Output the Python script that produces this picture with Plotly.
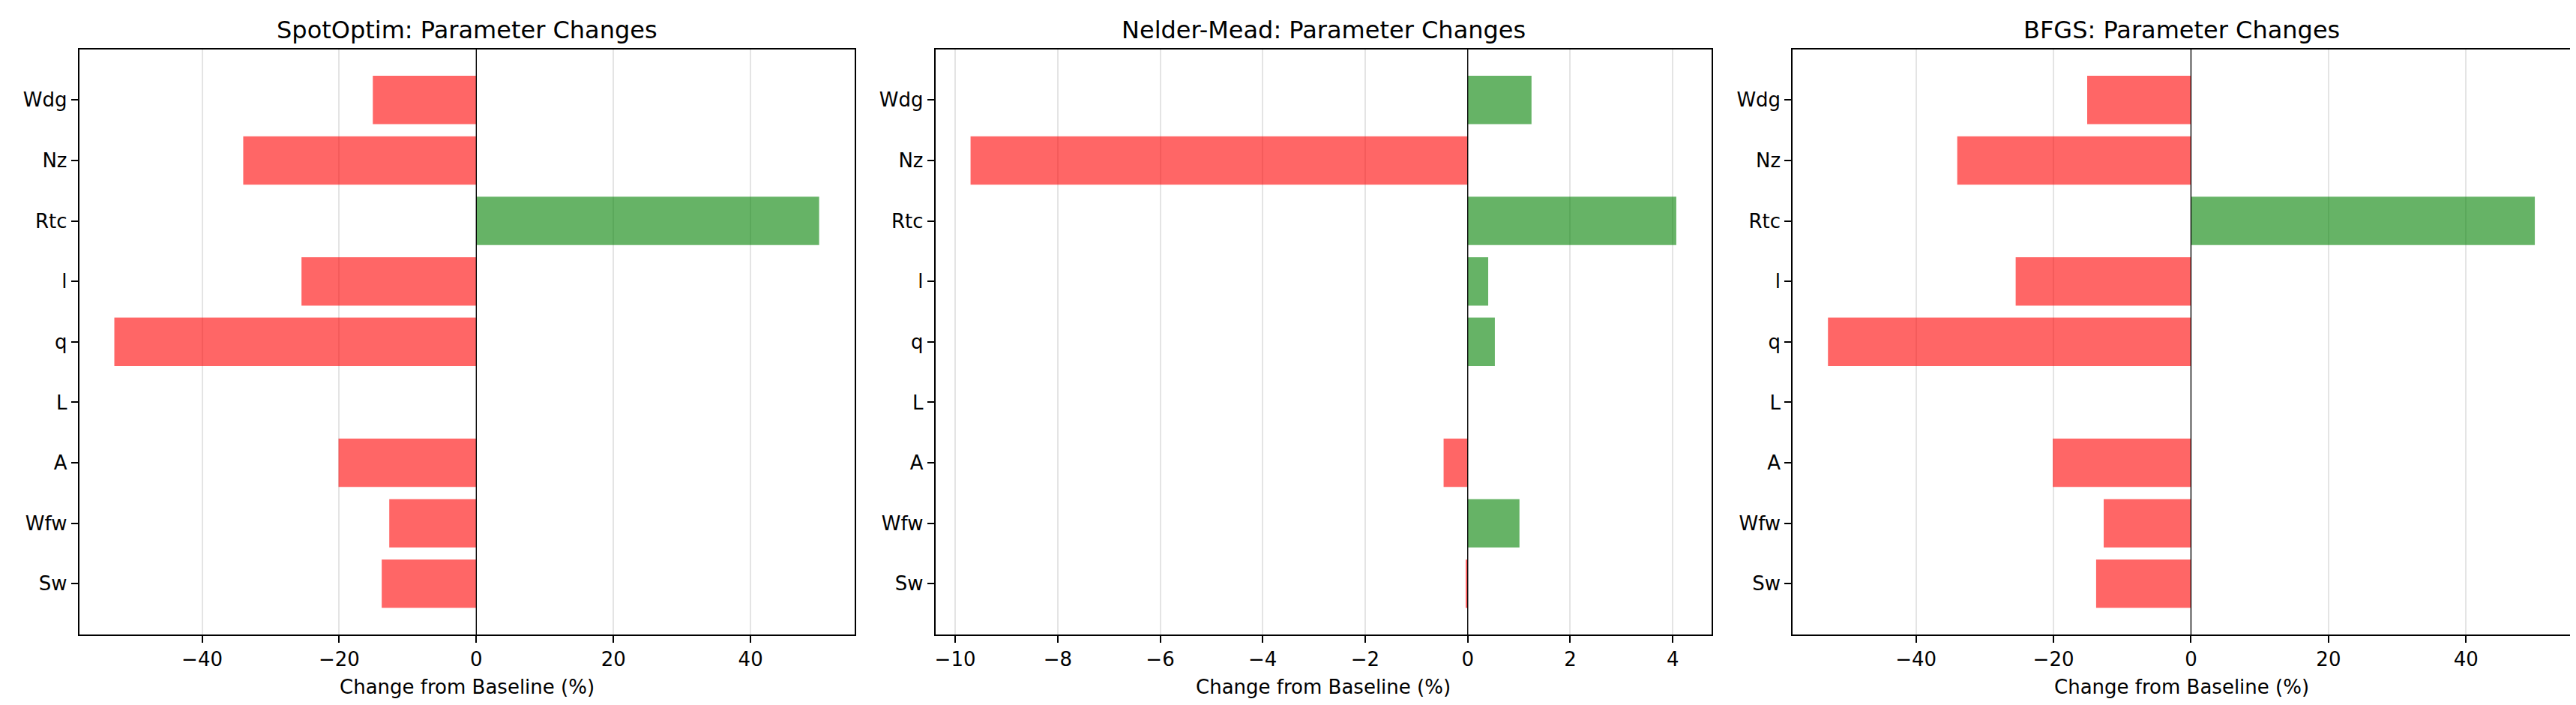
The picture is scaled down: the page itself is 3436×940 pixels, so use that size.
import plotly.graph_objects as go

# ---------------- data ----------------
params = ["Sw", "Wfw", "A", "L", "q", "l", "Rtc", "Nz", "Wdg"]
param_labels = ["Sw", "Wfw", "A", "L", "q", "l", "Rtc", "Nz", "Wdg"]

spotoptim_change = [-13.8, -12.7, -20.1, 0.0, -52.8, -25.5, 50.0, -34.0, -15.1]
neldermead_change = [-0.04, 1.01, -0.47, 0.0, 0.53, 0.40, 4.07, -9.70, 1.245]
bfgs_change = [-13.8, -12.7, -20.1, 0.0, -52.8, -25.5, 50.0, -34.0, -15.1]

titles = ["SpotOptim: Parameter Changes", "Nelder-Mead: Parameter Changes", "BFGS: Parameter Changes"]
xlabel = "Change from Baseline (%)"
dticks = [20, 2, 20]

# ---------------- styling ----------------
W, H = 3436, 940
FONT = "DejaVu Sans"
RED = "rgba(255,0,0,0.6)"
GREEN = "rgba(0,128,0,0.6)"

x_domains_px = [(97.5, 1131.6), (1239.5, 2275.0), (2383.1, 3420.2)]
y_top_px, y_bot_px = 57.6, 838.1

fig = go.Figure()
series = [spotoptim_change, neldermead_change, bfgs_change]

for i, vals in enumerate(series):
    ax = "" if i == 0 else str(i + 1)
    colors = [RED if v < 0 else GREEN for v in vals]
    fig.add_trace(go.Bar(
        y=params, x=vals, orientation="h",
        marker=dict(color=colors, line=dict(width=0)),
        width=0.8, xaxis="x" + ax, yaxis="y" + ax, showlegend=False,
    ))
    lo, hi = min(vals + [0]), max(vals + [0])
    pad = 0.05 * (hi - lo)
    xd = [x_domains_px[i][0] / W, x_domains_px[i][1] / W]
    yd = [1 - y_bot_px / H, 1 - y_top_px / H]
    fig.layout["xaxis" + ax] = dict(
        domain=xd, range=[lo - pad, hi + pad], anchor="y" + ax,
        dtick=dticks[i], tick0=0,
        showgrid=True, gridcolor="#e4e4e4", gridwidth=1.5,
        zeroline=False, showline=True, linecolor="black", linewidth=1.6, mirror=True,
        ticks="outside", ticklen=9, tickwidth=1.5, tickcolor="black",
        tickfont=dict(family=FONT, size=26, color="black"),
    )
    fig.layout["yaxis" + ax] = dict(
        domain=yd, range=[-0.84, 8.84], anchor="x" + ax,
        type="category", categoryorder="array", categoryarray=params,
        tickmode="array", tickvals=params, ticktext=param_labels,
        showgrid=False, zeroline=False, showline=True, linecolor="black",
        linewidth=1.6, mirror=True,
        ticks="outside", ticklen=9, tickwidth=1.5, tickcolor="black",
        tickfont=dict(family=FONT, size=26, color="black"),
    )
    # zero reference line
    fig.add_shape(type="line", xref="x" + ax, yref="y" + ax + " domain",
                  x0=0, x1=0, y0=0, y1=1, line=dict(color="black", width=1.3),
                  layer="above")
    xc = (xd[0] + xd[1]) / 2
    fig.add_annotation(text=titles[i], x=xc, y=1 - 32 / H, xref="paper", yref="paper",
                       xanchor="center", yanchor="middle", showarrow=False,
                       font=dict(family=FONT, size=32, color="black"))
    fig.add_annotation(text=xlabel, x=xc, y=1 - 908 / H, xref="paper", yref="paper",
                       xanchor="center", yanchor="middle", showarrow=False,
                       font=dict(family=FONT, size=26, color="black"))

fig.update_layout(
    width=W, height=H, margin=dict(l=0, r=0, t=0, b=0),
    paper_bgcolor="white", plot_bgcolor="white",
    bargap=0.2,
)

fig.write_html("out.html")
